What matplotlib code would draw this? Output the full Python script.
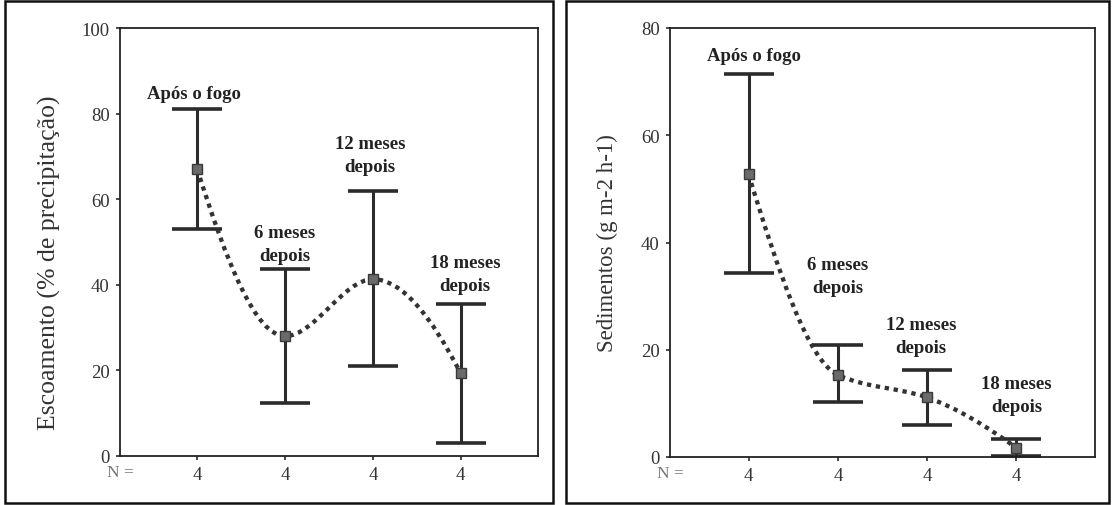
import numpy as np
import matplotlib
matplotlib.use("Agg")
import matplotlib.pyplot as plt
from matplotlib.path import Path
from matplotlib.patches import PathPatch, Rectangle

# ---- dados ----
grupos = ["Após o fogo", "6 meses\ndepois", "12 meses\ndepois", "18 meses\ndepois"]
n_amostras = ["4", "4", "4", "4"]

esc_media = [67.0, 28.0, 41.3, 19.3]
esc_sup = [81.0, 43.8, 62.0, 35.4]
esc_inf = [53.0, 12.4, 21.0, 3.0]

sed_media = [52.7, 15.3, 11.1, 1.7]
sed_sup = [71.4, 20.8, 16.2, 3.4]
sed_inf = [34.4, 10.2, 5.9, 0.1]

# posição dos rótulos (x, y) em coordenadas de dados
esc_rot_x = [0.96, 2.0, 2.97, 4.05]
esc_rot_y = [84.6, 49.6, 70.4, 42.6]
sed_rot_x = [1.06, 2.0, 2.93, 4.0]
sed_rot_y = [74.8, 33.8, 22.6, 11.5]

plt.rcParams["font.family"] = ["Liberation Serif", "DejaVu Serif"]
COR = "#2b2b2b"


def pchip_slopes(x, y):
    x = np.asarray(x, float)
    y = np.asarray(y, float)
    h = np.diff(x)
    d = np.diff(y) / h
    m = np.zeros_like(y)
    for k in range(1, len(y) - 1):
        if d[k - 1] * d[k] <= 0:
            m[k] = 0.0
        else:
            m[k] = 2.0 / (1.0 / d[k - 1] + 1.0 / d[k])
    # extremos
    for k, (d1, d2, h1, h2) in [(0, (d[0], d[1], h[0], h[1])),
                                (-1, (d[-1], d[-2], h[-1], h[-2]))]:
        mm = ((2 * h1 + h2) * d1 - h1 * d2) / (h1 + h2)
        if np.sign(mm) != np.sign(d1):
            mm = 0.0
        elif np.sign(d1) != np.sign(d2) and abs(mm) > abs(3 * d1):
            mm = 3 * d1
        m[k] = mm
    return m


def curva_suave(ax, x, y):
    m = pchip_slopes(x, y)
    verts = [(x[0], y[0])]
    codes = [Path.MOVETO]
    for i in range(len(x) - 1):
        h = x[i + 1] - x[i]
        verts += [(x[i] + h / 3, y[i] + m[i] * h / 3),
                  (x[i + 1] - h / 3, y[i + 1] - m[i + 1] * h / 3),
                  (x[i + 1], y[i + 1])]
        codes += [Path.CURVE4] * 3
    patch = PathPatch(Path(verts, codes), facecolor="none", edgecolor="#333333",
                      lw=3.1, linestyle=(0, (1, 1.1)), capstyle="butt", zorder=3)
    ax.add_patch(patch)


def painel(ax, media, sup, inf, rot_x, rot_y, ymax, yticks, ylabel, ylabel_size):
    x = np.arange(1, len(media) + 1)
    media = np.array(media)
    erro = [media - np.array(inf), np.array(sup) - media]
    ax.errorbar(x, media, yerr=erro, fmt="none", ecolor=COR, elinewidth=2.2,
                capsize=18, capthick=2.6, zorder=2)
    curva_suave(ax, x, media)
    ax.plot(x, media, "s", ms=7, mfc="#6a6a6a", mec="#3a3a3a", mew=1, zorder=4)

    for txt, tx, ty in zip(grupos, rot_x, rot_y):
        ax.text(tx, ty, txt, ha="center", va="center", fontsize=13.5,
                fontweight="bold", color="#222222", linespacing=1.45)

    ax.set_xlim(0.12, 4.88)
    ax.set_ylim(0, ymax)
    ax.set_yticks(yticks)
    ax.set_xticks(x)
    ax.set_xticklabels(n_amostras)
    ax.tick_params(axis="both", direction="out", length=3, width=1.2,
                   labelsize=13.5, labelcolor="#333333", color=COR, pad=4.5)
    for s in ax.spines.values():
        s.set_linewidth(1.3)
        s.set_color("#222222")
    ax.text(0.12, -0.037, "N =", transform=ax.get_xaxis_transform(),
            ha="center", va="center", fontsize=12.5, color="#777777")
    ax.set_ylabel(ylabel, fontsize=ylabel_size, color="#333333")


fig = plt.figure(figsize=(11.12, 5.06), dpi=100)

ax1 = fig.add_axes([120 / 1112, 1 - 457 / 506, 418 / 1112, 428 / 506])
ax2 = fig.add_axes([670 / 1112, 1 - 458 / 506, 425 / 1112, 429 / 506])

painel(ax1, esc_media, esc_sup, esc_inf, esc_rot_x, esc_rot_y, 100,
       [0, 20, 40, 60, 80, 100], "Escoamento (% de precipitação)", 18.5)
painel(ax2, sed_media, sed_sup, sed_inf, sed_rot_x, sed_rot_y, 80,
       [0, 20, 40, 60, 80], "Sedimentos (g m-2 h-1)", 16.5)

ax1.yaxis.set_label_coords(-0.14, 0.455)
ax2.yaxis.set_label_coords(-0.122, 0.5)

# molduras externas
fig.patches.append(Rectangle((5 / 1112, 2 / 506), 548 / 1112, 502 / 506,
                             transform=fig.transFigure, fill=False, lw=1.8,
                             edgecolor="#111111"))
fig.patches.append(Rectangle((566 / 1112, 2 / 506), 543 / 1112, 502 / 506,
                             transform=fig.transFigure, fill=False, lw=1.8,
                             edgecolor="#111111"))

fig.savefig("out.png", dpi=100)
